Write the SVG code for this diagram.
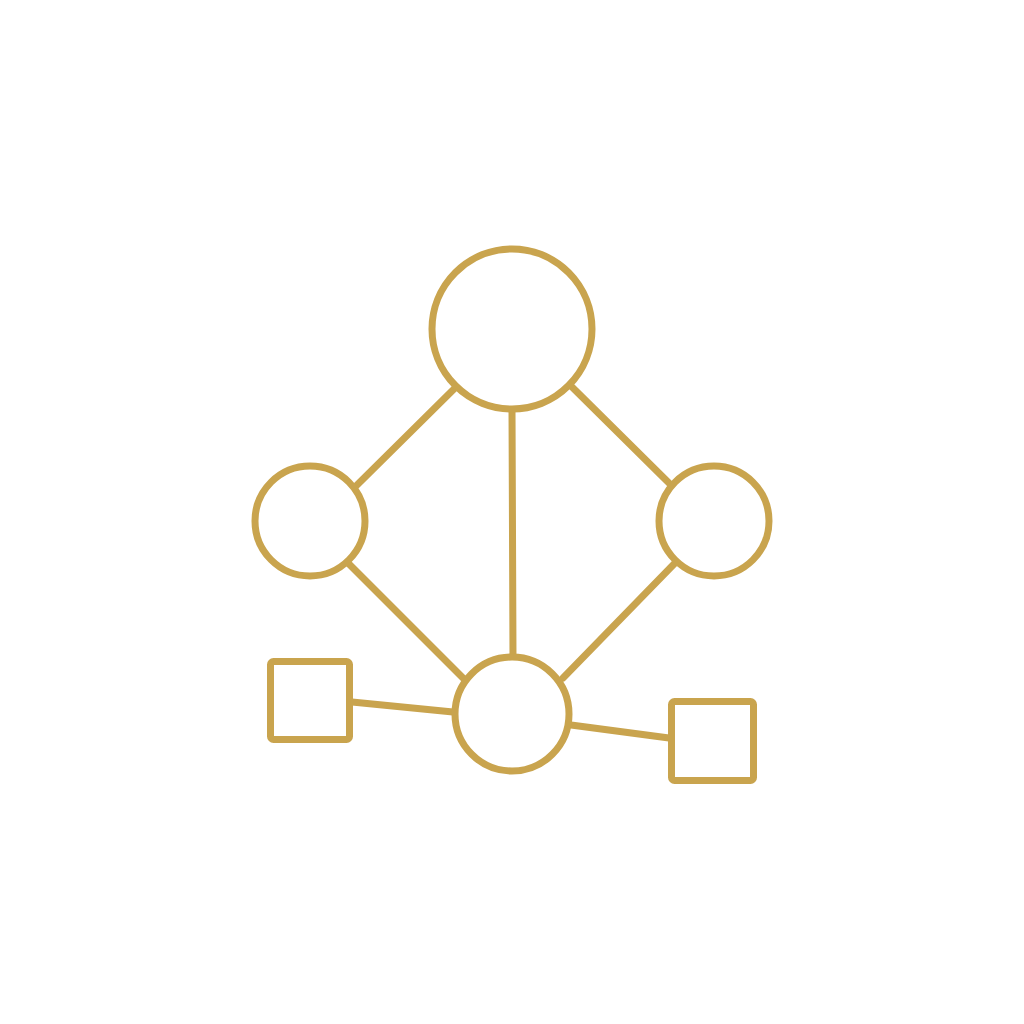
<svg xmlns="http://www.w3.org/2000/svg" width="1024" height="1024" viewBox="0 0 1024 1024">
<style>
.s{fill:none;stroke:#C9A44E;stroke-width:7;stroke-linecap:round;stroke-linejoin:round}
.n{fill:#fff;stroke:#C9A44E;stroke-width:7}
</style>
<rect width="1024" height="1024" fill="#fff"/>
<g id="connectors" class="s">
<line x1="455" y1="388" x2="357" y2="485"/>
<line x1="572" y1="387" x2="670" y2="484"/>
<line x1="512" y1="410" x2="513" y2="656"/>
<line x1="348" y1="563" x2="463" y2="678"/>
<line x1="675" y1="563" x2="563" y2="678"/>
<line x1="352" y1="702" x2="453" y2="712"/>
<line x1="571" y1="725" x2="669" y2="738"/>
</g>
<g id="top"><circle class="n" cx="512" cy="329" r="80"/></g>
<g id="left"><circle class="n" cx="310" cy="521" r="55"/></g>
<g id="right"><circle class="n" cx="714" cy="521" r="55"/></g>
<g id="bottom"><circle class="n" cx="512" cy="714" r="57"/></g>
<g id="sqleft"><rect class="n" x="270.5" y="661.5" width="79" height="78" rx="3"/></g>
<g id="sqright"><rect class="n" x="671.5" y="701.5" width="82" height="79" rx="3"/></g>
</svg>
